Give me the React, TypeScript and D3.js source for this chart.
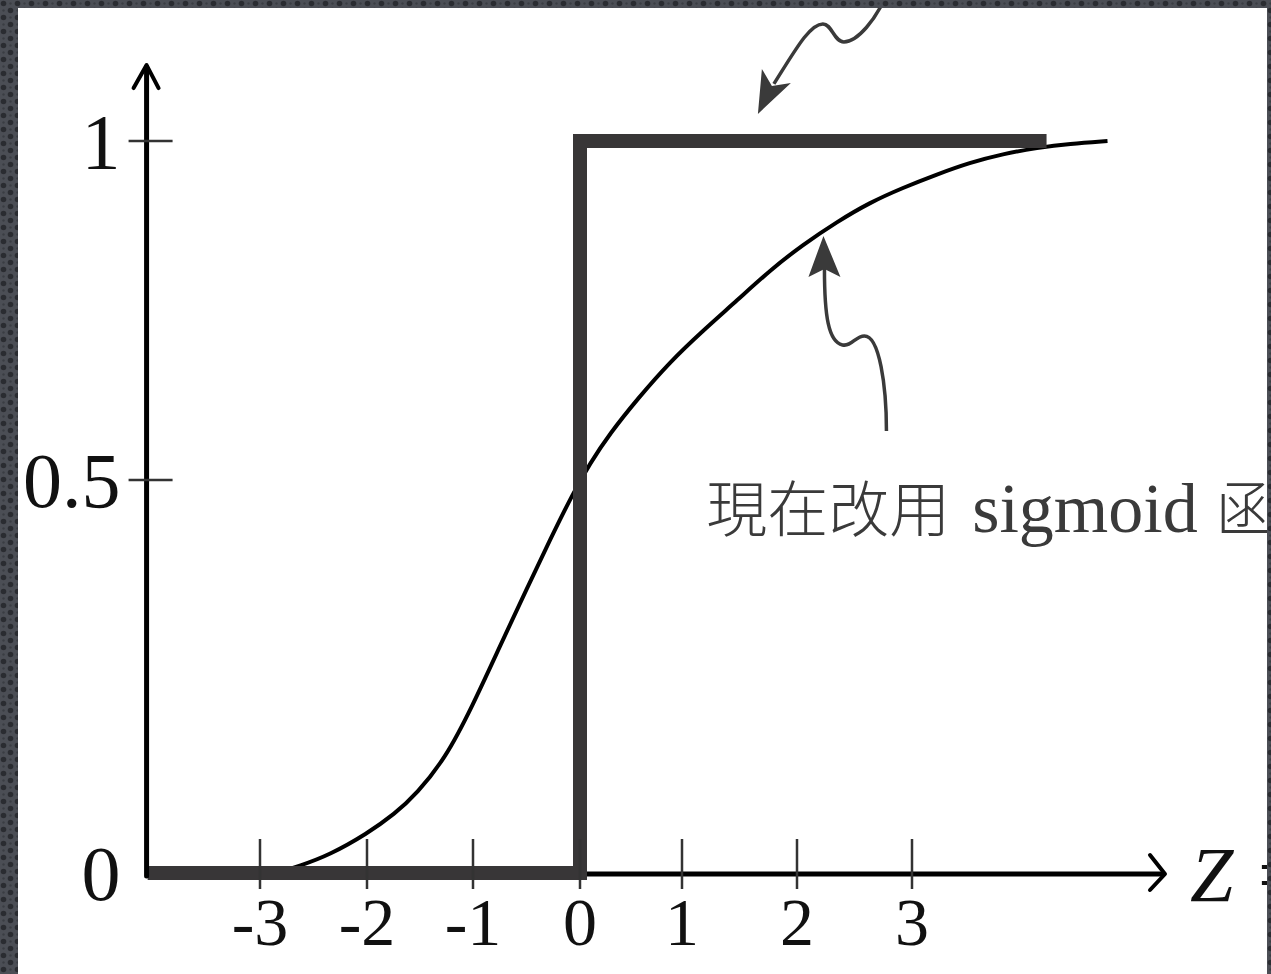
import React from "react";
import * as d3 from "d3";

// ---- data ----
const xTicks = [-3, -2, -1, 0, 1, 2, 3];
const xTickLabels = ["-3", "-2", "-1", "0", "1", "2", "3"];
const yTicks = [0, 0.5, 1];
const yTickLabels = ["0", "0.5", "1"];

// sigmoid-like curve
const sigmoidX = [-2.85, -2.63, -2.35, -2.0, -1.74, -1.53, -1.26, -1.01, -0.75, -0.5, -0.28, -0.07, 0.1, 0.29, 0.56, 0.88, 1.18, 1.48, 1.77, 2.05, 2.35, 2.63, 2.92, 3.22, 3.5, 3.79, 4.09, 4.37, 4.7];
const sigmoidY = [0, 0.009, 0.023, 0.05, 0.075, 0.101, 0.146, 0.211, 0.288, 0.361, 0.424, 0.482, 0.525, 0.568, 0.619, 0.674, 0.72, 0.765, 0.81, 0.847, 0.881, 0.909, 0.931, 0.951, 0.968, 0.981, 0.99, 0.996, 1.0];

// step function
const stepX = [-4.05, 0, 0, 4.17];
const stepY = [0, 0, 1, 1];

// axis extents
const xAxisStart = -4.06;
const xAxisEnd = 5.2;
const yAxisTop = 1.112;

// annotation anchors (data coords)
const topArrowTip = { x: 1.66, y: 1.04 };
const curveArrowTip = { x: 2.23, y: 0.86 };
const noteAnchor = { x: 1.21, y: 0.434 };
const noteCJK = "現在改用";
const noteLatin = "sigmoid";
const noteTail = "函數";

const W = 1271;
const H = 974;

export default function App() {
  const x = d3
    .scaleLinear()
    .domain(xTicks)
    .range([260, 367, 473, 580, 682, 797, 912]);
  const y = d3.scaleLinear().domain([0, 0.5, 1]).range([873, 480, 141]);

  const curvePts: [number, number][] = sigmoidX.map((v, i) => [v, sigmoidY[i]]);
  const stepPts: [number, number][] = stepX.map((v, i) => [v, stepY[i]]);

  const curveLine = d3
    .line<[number, number]>()
    .x((d) => x(d[0]))
    .y((d) => y(d[1]))
    .curve(d3.curveBasis);
  const stepLine = d3
    .line<[number, number]>()
    .x((d) => x(d[0]))
    .y((d) => y(d[1]));

  const x0 = x(xAxisStart);
  const y0 = y(0);
  const xEnd = x(xAxisEnd);
  const yTop = y(yAxisTop);

  const serif = "'Liberation Serif', 'Times New Roman', serif";
  const cjk = "'Noto Sans CJK TC', 'Noto Sans CJK SC', sans-serif";
  const annColor = "#3a3a3a";

  const ta = { x: x(topArrowTip.x), y: y(topArrowTip.y) };
  const ca = { x: x(curveArrowTip.x), y: y(curveArrowTip.y) };

  return (
    <svg
      width={W}
      height={H}
      viewBox={`0 0 ${W} ${H}`}
      style={{ position: "absolute", left: 0, top: 0, display: "block" }}
    >
      <defs>
        <pattern id="frameDots" width="14" height="14" patternUnits="userSpaceOnUse">
          <rect width="14" height="14" fill="#4b4e55" />
          <circle cx="3.5" cy="3.5" r="2.8" fill="#2a2c31" />
          <circle cx="10.5" cy="10.5" r="2.8" fill="#2a2c31" />
          <circle cx="10.5" cy="3.5" r="1.2" fill="#3a3d43" />
          <circle cx="3.5" cy="10.5" r="1.2" fill="#3a3d43" />
        </pattern>
        <clipPath id="inner">
          <rect x={18} y={8} width={1249} height={966} />
        </clipPath>
      </defs>

      <rect x={0} y={0} width={W} height={H} fill="#ffffff" />

      <g clipPath="url(#inner)">
        {/* sigmoid curve */}
        <path d={curveLine(curvePts) || ""} fill="none" stroke="#000" strokeWidth={4} />

        {/* x axis */}
        <line x1={x0} y1={y0 + 1} x2={xEnd - 2} y2={y0 + 1} stroke="#000" strokeWidth={5} />
        <polyline
          points={`${xEnd - 15},${y0 - 18} ${xEnd},${y0 + 1} ${xEnd - 15},${y0 + 17}`}
          fill="none"
          stroke="#000"
          strokeWidth={4}
          strokeLinecap="round"
          strokeLinejoin="round"
        />

        {/* step function */}
        <path
          d={stepLine(stepPts) || ""}
          fill="none"
          stroke="#383637"
          strokeWidth={14}
          strokeLinejoin="miter"
          strokeLinecap="butt"
        />

        {/* y axis */}
        <line x1={x0} y1={y0 + 3} x2={x0} y2={yTop + 2} stroke="#000" strokeWidth={5} strokeLinecap="round" />
        <polyline
          points={`${x0 - 13},${yTop + 23} ${x0},${yTop} ${x0 + 12},${yTop + 23}`}
          fill="none"
          stroke="#000"
          strokeWidth={4}
          strokeLinecap="round"
          strokeLinejoin="round"
        />

        {/* y ticks */}
        {yTicks.map((t, i) => (
          <g key={"yt" + i}>
            {t > 0 && (
              <line x1={x0 - 18} x2={x0 + 26} y1={y(t)} y2={y(t)} stroke="#333" strokeWidth={2.5} />
            )}
            <text
              x={x0 - 26}
              y={y(t) + 27}
              textAnchor="end"
              fontFamily={serif}
              fontSize={78}
              fill="#111"
            >
              {yTickLabels[i]}
            </text>
          </g>
        ))}

        {/* x ticks */}
        {xTicks.map((t, i) => (
          <g key={"xt" + i}>
            <line x1={x(t)} x2={x(t)} y1={y0 - 34} y2={y0 + 16} stroke="#333" strokeWidth={2.5} />
            <text
              x={x(t)}
              y={y0 + 72}
              textAnchor="middle"
              fontFamily={serif}
              fontSize={68}
              fill="#111"
            >
              {xTickLabels[i]}
            </text>
          </g>
        ))}

        {/* axis label */}
        <text
          x={xEnd + 25}
          y={y0 + 28}
          fontFamily={serif}
          fontStyle="italic"
          fontSize={78}
          fill="#111"
        >
          Z =
        </text>

        {/* arrow pointing at step line */}
        <g transform={`translate(${ta.x},${ta.y})`}>
          <path
            d="M 128,-118 C 118,-95 100,-72 86,-72 C 76,-72 74,-90 65,-90 C 52,-90 38,-65 16,-30"
            fill="none"
            stroke={annColor}
            strokeWidth={3.5}
          />
          <path d="M 0,0 L 4,-45 L 14,-28 L 33,-31 Z" fill={annColor} />
        </g>

        {/* arrow pointing at curve */}
        <g transform={`translate(${ca.x},${ca.y})`}>
          <path
            d="M 63,195 C 63,150 56,100 41,100 C 32,100 28,111 19,109 C 5,106 1,80 1,33"
            fill="none"
            stroke={annColor}
            strokeWidth={3.5}
          />
          <path d="M 0,0 L -15,41 L 1,33 L 17,41 Z" fill={annColor} />
        </g>

        {/* annotation text */}
        <text x={x(noteAnchor.x)} y={y(noteAnchor.y)} fill={annColor}>
          <tspan fontFamily={cjk} fontSize={61} fontWeight={300}>
            {noteCJK}
          </tspan>
          <tspan fontFamily={serif} fontSize={70} dx={22}>
            {noteLatin}
          </tspan>
          <tspan fontFamily={cjk} fontSize={61} fontWeight={300} dx={18}>
            {noteTail}
          </tspan>
        </text>
      </g>

      {/* frame */}
      <path
        d={`M0,0 H${W} V${H} H0 Z M18,8 V${H} H1267 V8 Z`}
        fill="url(#frameDots)"
        fillRule="evenodd"
      />
    </svg>
  );
}
